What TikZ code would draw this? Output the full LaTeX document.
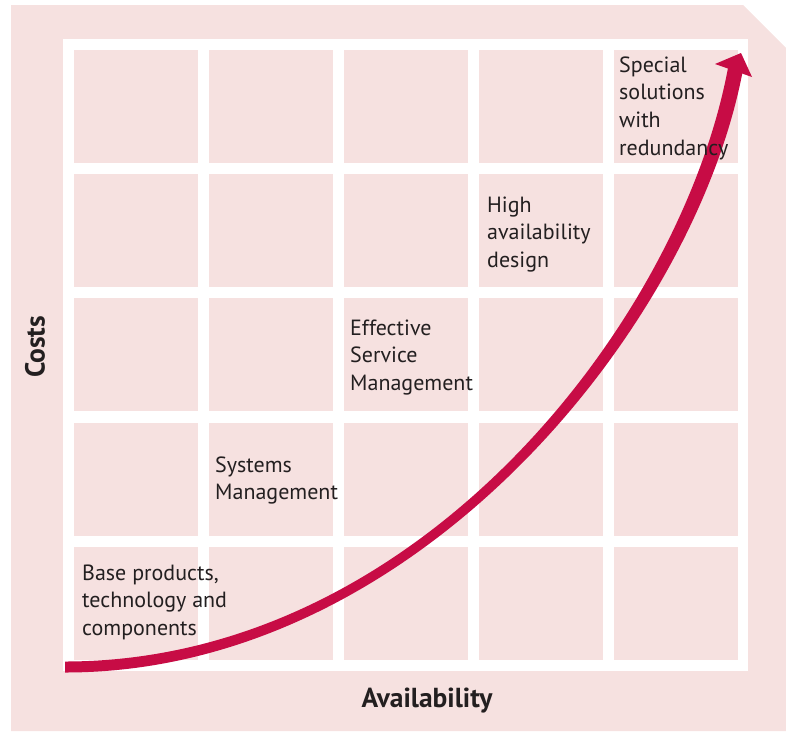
\documentclass[tikz,border=0pt]{standalone}
\usepackage{fontspec}
\setmainfont{PT Sans}
\definecolor{bgpink}{RGB}{246,225,224}
\definecolor{txt}{RGB}{35,31,32}
\definecolor{crim}{RGB}{199,12,69}
\begin{document}
\begin{tikzpicture}[x=1pt,y=-1pt,
  cell/.style={fill=bgpink},
  lbl/.style={anchor=base west, inner sep=0pt, font=\fontsize{22}{26}\selectfont, text=txt},
  axislbl/.style={inner sep=0pt, font=\bfseries\fontsize{27.5}{30}\selectfont, text=txt}]
\useasboundingbox (0,0) rectangle (786,731);
% background with cut corner
\fill[bgpink] (11,5) -- (743,5) -- (786,48) -- (786,731) -- (11,731) -- cycle;
% white grid field
\fill[white] (63,39) rectangle (748,671);
\foreach \i in {0,...,4}
  \foreach \j in {0,...,4}
    \fill[cell] ({74+135*\i},{50+124.2*\j}) rectangle ++(124,113);
% arrow: tapered shaft
\coordinate (a0) at (65,661.5);
\coordinate (a1) at (420,661.5);
\coordinate (a2) at (682.6,318.7);
\coordinate (a3) at (728.6,64.7);
\coordinate (b0) at (65,672.5);
\coordinate (b1c) at (420,672.5);
\coordinate (b2c) at (697.4,321.3);
\coordinate (b3) at (743.4,67.3);
\fill[crim] (a0) .. controls (a1) and (a2) .. (a3) -- (b3) .. controls (b2c) and (b1c) .. (b0) -- cycle;
% arrow head
\coordinate (tip) at (741,53);
\coordinate (barbL) at (715,64);
\coordinate (barbR) at (752,77);
\fill[crim] (tip) -- (barbR) -- (barbL) -- cycle;
% labels
\node[lbl] (b1) at (82,580) {Base products,};
\node[lbl] (b2) at (82,607.7) {technology and};
\node[lbl] (b3n) at (82,635.4) {components};
\node[lbl] (s1) at (215,472) {Systems};
\node[lbl] (s2) at (215,499.7) {Management};
\node[lbl] (e1) at (350,335) {Effective};
\node[lbl] (e2) at (350,362.7) {Service};
\node[lbl] (e3) at (350,390.4) {Management};
\node[lbl] (h1) at (487,212) {High};
\node[lbl] (h2) at (487,239.7) {availability};
\node[lbl] (h3) at (487,267.4) {design};
\node[lbl] (r1) at (619,72) {Special};
\node[lbl] (r2) at (619,99.7) {solutions};
\node[lbl] (r3) at (619,127.4) {with};
\node[lbl] (r4) at (619,155.1) {redundancy};
% axis labels
\node[axislbl, rotate=90] (costs) at (35,347) {Costs};
\node[axislbl, anchor=base] (avail) at (427,707) {Availability};
\end{tikzpicture}
\end{document}
